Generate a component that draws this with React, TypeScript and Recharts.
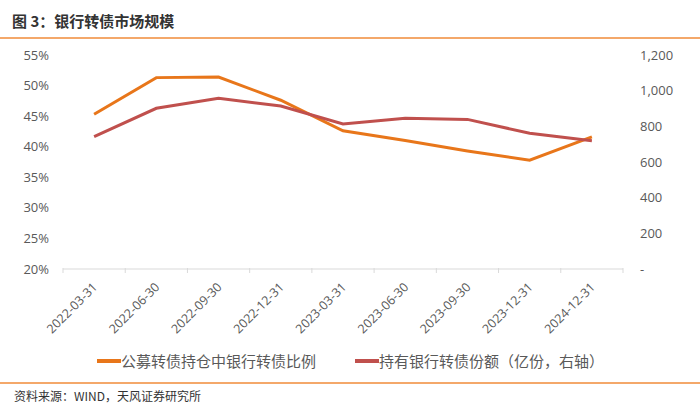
import React from "react";
import { LineChart, Line, XAxis, YAxis, CartesianGrid } from "recharts";

const categories = [
  "2022-03-31", "2022-06-30", "2022-09-30", "2022-12-31", "2023-03-31",
  "2023-06-30", "2023-09-30", "2023-12-31", "2024-12-31",
];
const bankRatio = [45.3, 51.3, 51.4, 47.6, 42.6, 41.0, 39.3, 37.8, 41.6];
const bankShares = [742, 901, 957, 914, 813, 845, 839, 761, 719];
const leftTicks = [20, 25, 30, 35, 40, 45, 50, 55];
const rightTicks = [0, 200, 400, 600, 800, 1000, 1200];

const seriesNames = ["公募转债持仓中银行转债比例", "持有银行转债份额（亿份，右轴）"];
const colors = ["#E8761A", "#C0504D"];

const data = categories.map((c, i) => ({ date: c, ratio: bankRatio[i], shares: bankShares[i] }));

const FONT = "'Open Sans', 'Noto Sans CJK SC', sans-serif";
const CJK = "'Noto Sans CJK SC', sans-serif";

const PLOT_LEFT = 63;
const PLOT_RIGHT = 623;
const BAND = (PLOT_RIGHT - PLOT_LEFT) / categories.length;

const XTick = (props: any) => {
  const { x, y, payload, index } = props;
  return (
    <g>
      <line x1={x - BAND / 2} x2={x - BAND / 2} y1={y - 9} y2={y - 4} stroke="#D9D9D9" />
      {index === categories.length - 1 && (
        <line x1={x + BAND / 2} x2={x + BAND / 2} y1={y - 9} y2={y - 4} stroke="#D9D9D9" />
      )}
      <text
        x={x + 4}
        y={y + 11}
        textAnchor="end"
        fontSize={12.5}
        fill="#595959"
        fontFamily={FONT}
        transform={`rotate(-45, ${x + 4}, ${y + 11})`}
      >
        {payload.value}
      </text>
    </g>
  );
};

export default function App() {
  return (
    <div style={{ position: "absolute", left: 0, top: 0, width: 700, height: 408, background: "#fff", overflow: "hidden" }}>
      <div style={{ position: "absolute", left: 12, top: 11, fontFamily: CJK, fontSize: 15, fontWeight: 700, color: "#333", lineHeight: "20px" }}>
        图 3：银行转债市场规模
      </div>
      <div style={{ position: "absolute", left: 0, top: 37, width: 700, height: 2, background: "#F4A86A" }} />
      <LineChart
        width={700}
        height={408}
        data={data}
        margin={{ top: 55, right: 0, bottom: 69, left: 0 }}
      >
        <CartesianGrid vertical={false} horizontal={false} />
        <XAxis
          dataKey="date"
          interval={0}
          height={70}
          padding={{ left: BAND / 2, right: BAND / 2 }}
          axisLine={{ stroke: "#D9D9D9" }}
          tickLine={false}
          tick={<XTick />}
        />
        <YAxis
          yAxisId="left"
          width={PLOT_LEFT}
          domain={[20, 55]}
          ticks={leftTicks}
          axisLine={false}
          tickLine={false}
          tickSize={0}
          tickMargin={14}
          tickFormatter={(v: number) => `${v}%`}
          tick={{ fontSize: 13, fill: "#595959", fontFamily: FONT }}
        />
        <YAxis
          yAxisId="right"
          orientation="right"
          width={77}
          domain={[0, 1200]}
          ticks={rightTicks}
          axisLine={false}
          tickLine={false}
          tickSize={0}
          tickMargin={17}
          tickFormatter={(v: number) => (v === 0 ? "-" : v.toLocaleString("en-US"))}
          tick={{ fontSize: 13, fill: "#595959", fontFamily: FONT, textAnchor: "start" }}
        />
        <Line yAxisId="left" type="linear" dataKey="ratio" name={seriesNames[0]} stroke={colors[0]} strokeWidth={3} dot={false} isAnimationActive={false} />
        <Line yAxisId="right" type="linear" dataKey="shares" name={seriesNames[1]} stroke={colors[1]} strokeWidth={3} dot={false} isAnimationActive={false} />
      </LineChart>
      <div style={{ position: "absolute", left: 97, top: 350, display: "flex", alignItems: "center", fontFamily: CJK, fontSize: 15, color: "#595959", lineHeight: "22px" }}>
        <span style={{ display: "inline-block", width: 24, height: 4, background: colors[0] }} />
        <span>{seriesNames[0]}</span>
        <span style={{ display: "inline-block", width: 24, height: 4, background: colors[1], marginLeft: 39 }} />
        <span>{seriesNames[1]}</span>
      </div>
      <div style={{ position: "absolute", left: 0, top: 382, width: 700, height: 2, background: "#F4A86A" }} />
      <div style={{ position: "absolute", left: 14, top: 387, fontFamily: CJK, fontSize: 12, color: "#333", lineHeight: "18px" }}>
        资料来源：WIND，天风证券研究所
      </div>
    </div>
  );
}
